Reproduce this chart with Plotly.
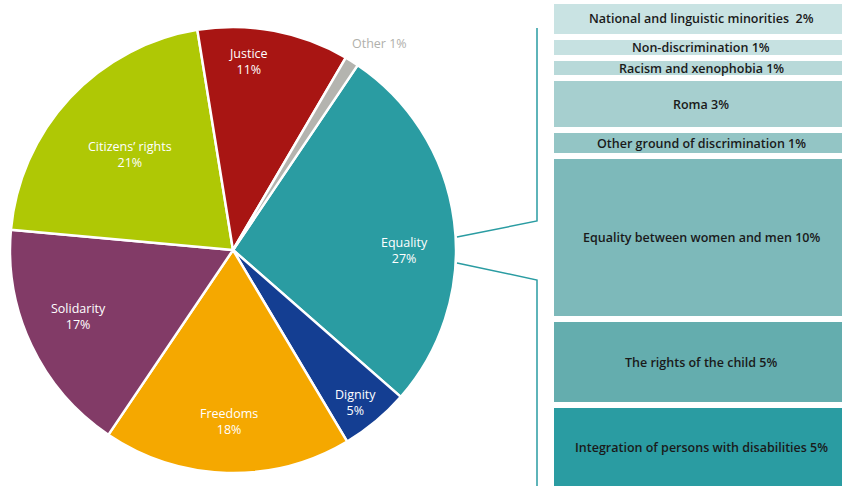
import math
import plotly.graph_objects as go

# Pie: share of each chapter
pie_labels = ["Equality", "Dignity", "Freedoms", "Solidarity", "Citizens’ rights", "Justice", "Other"]
pie_values = [27, 5, 18, 17, 21, 11, 1]
pie_colors = ["#2a9ca2", "#143e92", "#f5a800", "#823b67", "#afc805", "#a81513", "#b4b4af"]
# how far out (fraction of radius) each label sits, and small angle nudges
label_r = [0.77, 0.875, 0.77, 0.755, 0.63, 0.85, 1.135]
label_da = [7.4, 1.1, -0.3, 2.3, -0.3, -6.0, 3.3]

# Breakdown of Equality
eq_labels = ["National and linguistic minorities  2%", "Non-discrimination 1%", "Racism and xenophobia 1%",
             "Roma 3%", "Other ground of discrimination 1%", "Equality between women and men 10%",
             "The rights of the child 5%", "Integration of persons with disabilities 5%"]
eq_values = [2.2, 1.3, 1.25, 3.2, 1.6, 10.0, 5.3, 5.2]
eq_colors = ["#c9e3e3", "#c6e1e1", "#b8d9d9", "#a6cfcf", "#93c5c5", "#7db9ba", "#64adae", "#2a9ca2"]

W, H = 842, 486
FONT = "Open Sans"
rotation = 34
px0, px1, py0, py1 = 10, 456, 27, 473  # pie box in pixels

fig = go.Figure()
fig.add_trace(go.Pie(
    labels=pie_labels, values=pie_values, sort=False, direction="clockwise",
    rotation=rotation, textinfo="none", hoverinfo="label+percent",
    marker=dict(colors=pie_colors, line=dict(color="white", width=2.5)),
    domain=dict(x=[px0 / W, px1 / W], y=[1 - py1 / H, 1 - py0 / H]),
    showlegend=False,
))

annotations = []
cx, cy = (px0 + px1) / 2, (py0 + py1) / 2
R = (px1 - px0) / 2
total = sum(pie_values)
acc = 0
for lab, v, rf, da in zip(pie_labels, pie_values, label_r, label_da):
    mid = rotation + (acc + v / 2) / total * 360 + da
    acc += v
    a = math.radians(mid)
    x = cx + rf * R * math.sin(a)
    y = cy - rf * R * math.cos(a)
    col = "#b0b0ab" if lab == "Other" else "white"
    txt = f"{lab} {v}%" if lab == "Other" else f"{lab}<br>{v}%"
    annotations.append(dict(x=x / W, y=1 - y / H, xref="paper", yref="paper", text=txt,
                            xanchor="center", yanchor="middle", showarrow=False,
                            font=dict(color=col, size=12.5, family=FONT, weight=500)))

cum = 0
for lab, v, c in zip(eq_labels, eq_values, eq_colors):
    fig.add_trace(go.Bar(
        x=[0], y=[v], width=1, marker=dict(color=c, line=dict(color="white", width=6)),
        showlegend=False, hoverinfo="skip", xaxis="x", yaxis="y",
    ))
    annotations.append(dict(x=0, y=cum + v / 2, xref="x", yref="y", text=lab, showarrow=False,
                            xanchor="center", yanchor="middle",
                            font=dict(color="#1a1a1a", size=12.5, family=FONT, weight=600)))
    cum += v

teal = "#2a9ca2"
shapes = [
    dict(type="path", xref="paper", yref="paper", line=dict(color=teal, width=1.5),
         path=f"M {457 / W},{1 - 237 / H} L {537 / W},{1 - 221 / H} L {537 / W},{1 - 28 / H}"),
    dict(type="path", xref="paper", yref="paper", line=dict(color=teal, width=1.5),
         path=f"M {457 / W},{1 - 263 / H} L {537 / W},{1 - 280 / H} L {537 / W},0"),
]

fig.update_layout(
    width=W, height=H, margin=dict(l=0, r=0, t=0, b=0),
    paper_bgcolor="white", plot_bgcolor="white", barmode="stack",
    xaxis=dict(domain=[551 / W, 1], range=[-0.5, 0.47], visible=False, fixedrange=True),
    # last block runs off the bottom edge, as in the original
    yaxis=dict(domain=[0, 1 - 1 / H], range=[sum(eq_values) - 0.25, 0], visible=False, fixedrange=True),
    annotations=annotations, shapes=shapes,
)

fig.write_html("out.html", config={"displayModeBar": False},
               post_script="document.body.style.margin='0px';")
